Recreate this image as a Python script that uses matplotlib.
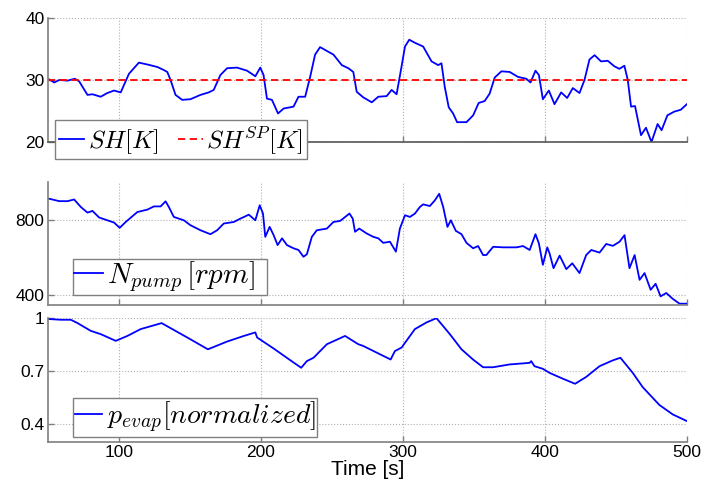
import matplotlib
matplotlib.use("Agg")
import matplotlib.pyplot as plt

plt.rcParams['mathtext.fontset'] = 'cm'
plt.rcParams['font.family'] = ['Liberation Sans', 'DejaVu Sans']

# Superheat SH [K]
sh_t = [50.8, 54.4, 57.9, 63.8, 68.9, 71.9, 77.8, 81.3, 87.1, 91.8, 96.5, 101.2, 107, 114, 120, 127,
        131.6, 134, 136.3, 139.8, 144.5, 150.3, 157.4, 163.2, 166.7, 171.4, 176.1, 183.1, 190.2, 196,
        199.5, 201.8, 204.2, 207.7, 212, 215.9, 222.9, 226.4, 231.1, 234.6, 238.1, 241.6, 251, 256.9,
        261.5, 265, 267.4, 272, 278, 282.6, 288.5, 292, 295.5, 299, 301.4, 304.4, 308.4, 314.2, 320.1,
        324.8, 327.1, 329.4, 332.2, 335.3, 338.1, 344.7, 349.4, 353.3, 357.5, 361, 364.6, 369.3, 375.1,
        381, 386.8, 389.8, 393.3, 395.7, 398.5, 402.7, 406.7, 411.4, 415.6, 419.6, 424.3, 427.8, 431.3,
        434.9, 439.5, 444.2, 448.9, 452.4, 455.9, 458.3, 460.6, 463.4, 467.6, 471.1, 475, 479.3, 482.1,
        486.2, 491, 495.6, 499.9]
sh_v = [30.1, 29.6, 30.0, 29.9, 30.2, 29.8, 27.6, 27.7, 27.3, 27.9, 28.3, 28.0, 31.0, 32.8, 32.5, 32.1,
        31.6, 31.3, 30.0, 27.6, 26.8, 26.9, 27.6, 28.0, 28.4, 30.8, 31.9, 32.0, 31.5, 30.6,
        32.0, 30.8, 27.0, 26.8, 24.6, 25.4, 25.7, 27.3, 27.3, 30.5, 34.1, 35.3, 34.1, 32.4,
        31.9, 31.3, 28.1, 27.2, 26.4, 27.3, 27.4, 28.4, 27.7, 32.2, 35.4, 36.5, 36.0, 35.4, 33.0,
        32.4, 32.7, 28.9, 25.6, 24.6, 23.2, 23.2, 24.3, 26.3, 26.6, 27.8, 30.4, 31.4, 31.3,
        30.5, 30.2, 29.6, 31.5, 30.8, 26.9, 28.3, 26.1, 28.0, 27.1, 28.7, 27.9, 30.0, 33.3,
        34.0, 33.0, 33.1, 32.2, 31.8, 32.3, 30.0, 25.7, 25.8, 21.1, 22.3, 20.0, 22.9, 21.9,
        24.3, 24.9, 25.2, 26.1]
sh_sp = 30.0

# Pump speed N_pump [rpm]
np_t = [50.8, 57.9, 63.8, 68.4, 73.1, 77.8, 81.3, 86, 91.8, 96.5, 100.5, 104.7, 112.9, 120, 124.6,
        129.3, 132.8, 135.1, 138.6, 145.7, 150.3, 157.4, 164.4, 169.1, 173.8, 180.8, 185.5, 191.4, 196,
        199.1, 201.4, 203, 206.1, 208.9, 211.7, 214.8, 218.3, 222.9, 226.4, 229.9, 232.3, 235.8, 239.3,
        246.4, 251, 255.8, 259.3, 262.3, 264.6, 266.2, 269.2, 274.4, 279.1, 282.6, 286.1, 290.8, 295,
        297.8, 301.4, 304.9, 308.4, 311.9, 314.2, 318.9, 322.4, 325.5, 328.3, 331.3, 333.7, 337.2,
        341.2, 344.7, 349.4, 352.9, 356.4, 358.7, 363.5, 370.5, 379.9, 384.5, 389.2, 393.3, 395.7,
        398.5, 401.6, 403.2, 406, 410.3, 415, 419.2, 424.3, 429, 432.6, 438.4, 443.1, 447.8, 452.5,
        456, 459.5, 463.1, 466.6, 470.1, 474.4, 477.9, 481.4, 485.4, 490.1, 494.8, 499.9]
np_v = [911, 898, 898, 907, 867, 837, 846, 811, 796, 784, 756, 787, 840, 853, 870,
        870, 897, 867, 814, 796, 770, 743, 722, 743, 779, 787, 805, 826, 796,
        876, 832, 708, 761, 717, 664, 700, 664, 647, 638, 602, 615, 708, 743,
        752, 787, 793, 814, 832, 805, 735, 752, 726, 708, 700, 676, 682, 629,
        752, 823, 814, 832, 867, 881, 872, 902, 937, 867, 761, 796, 740,
        722, 676, 647, 659, 611, 611, 655, 652, 652, 659, 638, 722, 673,
        559, 652, 620, 541, 608, 536, 567, 515, 611, 638, 624, 670, 660, 682,
        717, 541, 611, 479, 515, 426, 458, 391, 409, 377, 352, 352]

# Evaporator pressure p_evap [normalized]
pe_t = [50.8, 59, 66.1, 70.8, 80.1, 87.2, 97.7, 105.9, 115.3, 130, 148.1, 162.6, 176.1, 187.9, 196,
        197.3, 209, 220.6, 228.3, 232.3, 237, 246.4, 259.2, 268.5, 272, 281.5, 291.3, 294.3, 299,
        308.4, 316.6, 323.6, 333, 341.2, 349.3, 356.4, 363.4, 375.1, 389.2, 390.3, 392.6, 398.5,
        403.2, 412.5, 421.2, 429, 438.4, 447.7, 453.1, 461.8, 468.8, 480.5, 489.9, 499.9]
pe_v = [0.994, 0.99, 0.99, 0.971, 0.927, 0.908, 0.870, 0.898, 0.937, 0.971, 0.889, 0.822, 0.866, 0.898, 0.918,
        0.889, 0.826, 0.760, 0.717, 0.755, 0.774, 0.851, 0.898, 0.851, 0.841, 0.803, 0.764, 0.812, 0.832,
        0.937, 0.975, 0.999, 0.908, 0.822, 0.764, 0.720, 0.720, 0.736, 0.745, 0.755, 0.726, 0.711,
        0.688, 0.655, 0.626, 0.665, 0.726, 0.759, 0.774, 0.688, 0.607, 0.506, 0.452, 0.414]

xticks = [100, 200, 300, 400, 500]

W, H = 704, 488
fig = plt.figure(figsize=(W / 100, H / 100), dpi=100)
left = 48 / W
width = (687 - 48) / W

def mk(top_px, bot_px):
    return fig.add_axes([left, 1 - bot_px / H, width, (bot_px - top_px) / H])

ax1 = mk(18, 142)
ax2 = mk(182, 305)
ax3 = mk(318, 442)

spc = '#7f7f7f'
for ax in (ax1, ax2, ax3):
    ax.set_xlim(50, 500)
    ax.set_xticks(xticks)
    for s in ('top', 'right'):
        ax.spines[s].set_visible(False)
    for s in ('left', 'bottom'):
        ax.spines[s].set_color(spc)
        ax.spines[s].set_linewidth(1.2)
    ax.tick_params(direction='in', length=4, color=spc, labelsize=12.5, width=1, pad=2.5)
    ax.grid(True, linestyle=':', color='#b0b0b0', linewidth=0.8)
    ax.set_axisbelow(True)
    ax.patch.set_alpha(0)

ax1.spines['bottom'].set_color('#555555')

ax1.plot(sh_t, sh_v, color='#0000ff', lw=1.3, label=r'$SH[K]$')
ax1.plot([50, 500], [sh_sp, sh_sp], color='#ff0000', lw=1.3, ls='--', dashes=(4, 2.5), label=r'$SH^{SP}[K]$')
ax1.set_ylim(20, 40)
ax1.set_yticks([20, 30, 40])
ax1.set_xticklabels([])

ax2.plot(np_t, np_v, color='#0000ff', lw=1.3, label=r'$N_{pump}\,[rpm]$' + '\u00a0\u00a0')
ax2.set_ylim(345, 1000)
ax2.set_yticks([400, 800])
ax2.set_xticklabels([])

ax3.plot(pe_t, pe_v, color='#0000ff', lw=1.3, label=r'$p_{evap}[normalized]$')
ax3.set_ylim(0.295, 1.0)
ax3.set_yticks([0.4, 0.7, 1.0])
ax3.set_yticklabels(['0.4', '0.7', '1'])
ax3.set_xlabel('Time [s]', fontsize=15, labelpad=0)

def leg(ax, x0, y0, ncol=1, fs=18, bp=0.15):
    lg = ax.legend(loc='upper left', bbox_to_anchor=(x0 / W, 1 - y0 / H),
                   bbox_transform=fig.transFigure, ncol=ncol, fontsize=fs,
                   frameon=True, fancybox=False, handlelength=1.0, handletextpad=0.15,
                   columnspacing=0.8, borderpad=bp, borderaxespad=0)
    fr = lg.get_frame()
    fr.set_edgecolor('#808080')
    fr.set_linewidth(1.0)
    fr.set_alpha(1)
    return lg

leg(ax1, 55, 120, ncol=2)
leg(ax2, 73, 259, fs=21, bp=0.02)
leg(ax3, 73, 398, fs=20, bp=0.06)

fig.savefig('out.png', dpi=100)
